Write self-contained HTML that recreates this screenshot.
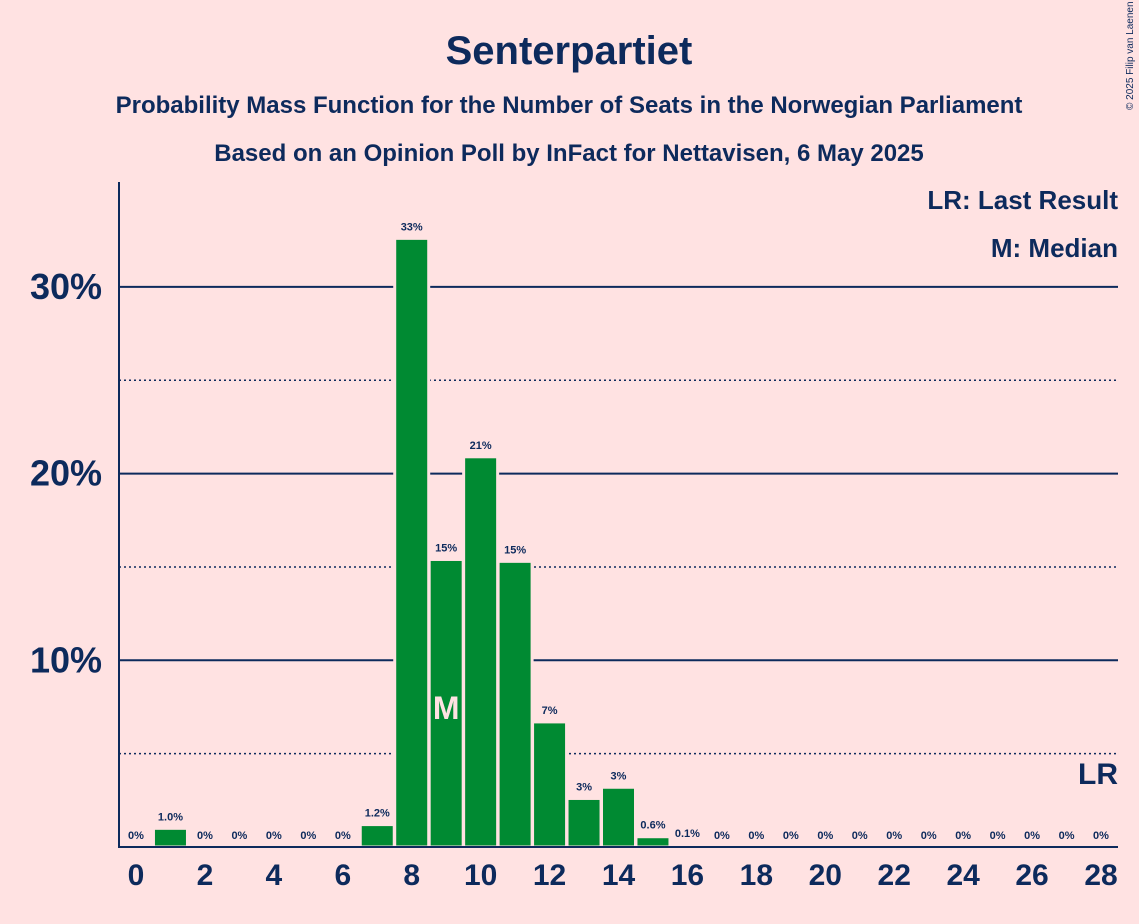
<!DOCTYPE html>
<html><head><meta charset="utf-8"><style>
html,body{margin:0;padding:0;background:#ffe2e2;}
svg{display:block;font-family:"Liberation Sans",sans-serif;}
</style></head><body>
<svg id="c" width="1139" height="924">
<rect width="1139" height="924" fill="#ffe2e2"/>
<text x="569" y="64" text-anchor="middle" font-size="40" font-weight="bold" fill="#0d2a5c">Senterpartiet</text>
<text x="569" y="113" text-anchor="middle" font-size="24" font-weight="bold" fill="#0d2a5c">Probability Mass Function for the Number of Seats in the Norwegian Parliament</text>
<text x="569" y="161" text-anchor="middle" font-size="24" font-weight="bold" fill="#0d2a5c">Based on an Opinion Poll by InFact for Nettavisen, 6 May 2025</text>
<text x="1133" y="110" font-size="10" fill="#0d2a5c" transform="rotate(-90 1133 110)">© 2025 Filip van Laenen</text>
<text x="1118" y="209" text-anchor="end" font-size="26" font-weight="bold" fill="#0d2a5c">LR: Last Result</text>
<text x="1118" y="257" text-anchor="end" font-size="26" font-weight="bold" fill="#0d2a5c">M: Median</text>
<g id="grid"></g><g id="bars"></g><g id="labels"></g>
<line x1="119" y1="182" x2="119" y2="848" stroke="#0d2a5c" stroke-width="2"/>
<line x1="119" y1="847" x2="1118" y2="847" stroke="#0d2a5c" stroke-width="2"/>
<text x="1118" y="784" text-anchor="end" font-size="30" font-weight="bold" fill="#0d2a5c">LR</text>
</svg>
<script>
const seats=[0,1,2,3,4,5,6,7,8,9,10,11,12,13,14,15,16,17,18,19,20,21,22,23,24,25,26,27,28];
const probs=[0,1.0,0,0,0,0,0,1.2,32.6,15.4,20.9,15.3,6.7,2.6,3.2,0.55,0.1,0,0,0,0,0,0,0,0,0,0,0,0];
const valueLabels=["0%","1.0%","0%","0%","0%","0%","0%","1.2%","33%","15%","21%","15%","7%","3%","3%","0.6%","0.1%","0%","0%","0%","0%","0%","0%","0%","0%","0%","0%","0%","0%"];
const yTicks=[5,10,15,20,25,30];
const yTickLabels={10:"10%",20:"20%",30:"30%"};
const medianSeat=9;
const NS="http://www.w3.org/2000/svg";
const x=s=>136+s*(1101-136)/28;
const y=v=>847-v*18.67;
function mk(t,a){const e=document.createElementNS(NS,t);for(const k in a)e.setAttribute(k,a[k]);return e;}
const grid=document.getElementById('grid'),bars=document.getElementById('bars'),labels=document.getElementById('labels');
yTicks.forEach(t=>{
 const solid=t%10===0;
 const l=mk('line',{x1:119,x2:1118,y1:y(t),y2:y(t),stroke:'#0d2a5c','stroke-width':solid?2:1.5});
 if(!solid)l.setAttribute('stroke-dasharray','2,3');
 
 
 grid.appendChild(l);
 if(yTickLabels[t]){
  const tx=mk('text',{x:102,y:y(t)+12,'text-anchor':'end','font-size':36,'font-weight':'bold',fill:'#0d2a5c'});
  tx.textContent=yTickLabels[t];
  
  
  grid.appendChild(tx);
 }
});
seats.forEach((s,i)=>{
 const p=probs[i];
 if(p>0){
  const r=mk('rect',{x:x(s)-17,y:y(p),width:34,height:847-y(p),fill:'#008a32',stroke:'#ffe2e2','stroke-width':3});
  
  
  bars.appendChild(r);
 }
 const v=mk('text',{x:x(s),y:y(p)-8,'text-anchor':'middle','font-size':11,'font-weight':'bold',fill:'#0d2a5c'});
 v.textContent=valueLabels[i];
 
 
 labels.appendChild(v);
 if(s%2===0){
  const t=mk('text',{x:x(s),y:885,'text-anchor':'middle','font-size':30,'font-weight':'bold',fill:'#0d2a5c'});
  t.textContent=s;
  
  
  labels.appendChild(t);
 }
});
const m=mk('text',{x:x(medianSeat),y:719,'text-anchor':'middle','font-size':32,'font-weight':'bold',fill:'#ffe2e2'});
m.textContent='M';


labels.appendChild(m);
</script>
</body></html>
